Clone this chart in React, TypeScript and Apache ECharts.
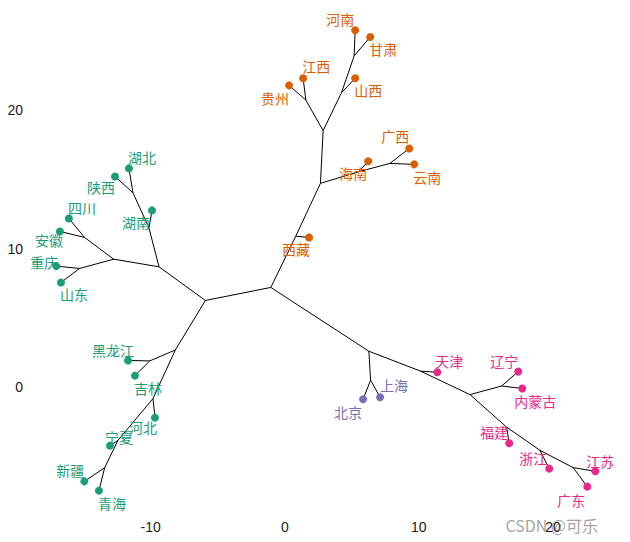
import React, { useEffect, useRef } from "react";
import * as echarts from "echarts";

// Leaves by cluster: names, x, y
const greenNames = ["湖北", "陕西", "湖南", "四川", "安徽", "重庆", "山东", "黑龙江", "吉林", "河北", "宁夏", "新疆", "青海"];
const greenX = [-11.62, -12.66, -9.9, -16.1, -16.77, -17.04, -16.69, -11.69, -11.17, -9.68, -13.04, -14.95, -13.86];
const greenY = [15.79, 15.21, 12.76, 12.18, 11.24, 8.74, 7.56, 1.93, 0.84, -2.19, -4.21, -6.79, -7.46];

const orangeNames = ["河南", "甘肃", "江西", "贵州", "山西", "广西", "云南", "海南", "西藏"];
const orangeX = [5.25, 6.37, 1.37, 0.32, 5.25, 9.28, 9.65, 6.22, 1.81];
const orangeY = [25.75, 25.27, 22.29, 21.78, 22.29, 17.23, 16.08, 16.3, 10.81];

const pinkNames = ["天津", "辽宁", "内蒙古", "福建", "浙江", "江苏", "广东"];
const pinkX = [11.37, 17.41, 17.71, 16.74, 19.72, 23.16, 22.56];
const pinkY = [1.08, 1.13, -0.09, -4.04, -5.87, -6.06, -7.17];

const purpleNames = ["北京", "上海"];
const purpleX = [5.84, 7.11];
const purpleY = [-0.87, -0.72];

// Internal nodes of the tree
const innerNames = ["A", "B", "G1", "H1", "H2", "L1", "L2", "L3", "G2", "G3", "G4", "G5", "G6", "X", "O1", "O2", "O3", "O4", "O5", "O6", "O7", "P0", "P1", "P2", "P3", "P4", "P5", "P6", "P7"];
const innerX = [-5.92, -1.04, -9.38, -10.13, -11.32, -12.76, -15.3, -14.93, -8.16, -10.07, -9.83, -12.44, -13.43, 0.82, 2.66, 2.86, 4.23, 5.17, 1.57, 5.52, 7.84, 6.27, 6.4, 10.13, 13.81, 16.17, 16.54, 19.03, 21.51];
const innerY = [6.26, 7.2, 8.69, 11.5, 14.03, 9.24, 8.57, 10.81, 2.69, 1.9, -0.82, -3.83, -5.8, 10.9, 14.71, 18.51, 21.25, 23.9, 20.72, 15.55, 16.15, 2.6, 0.51, 1.16, -0.53, 0.09, -2.87, -4.55, -5.8];

const edges: [string, string][] = [
  ["A", "B"], ["A", "G1"], ["A", "G2"],
  ["G1", "H1"], ["H1", "湖南"], ["H1", "H2"], ["H2", "湖北"], ["H2", "陕西"],
  ["G1", "L1"], ["L1", "L2"], ["L1", "L3"], ["L2", "重庆"], ["L2", "山东"], ["L3", "四川"], ["L3", "安徽"],
  ["G2", "G3"], ["G3", "黑龙江"], ["G3", "吉林"], ["G2", "G4"], ["G4", "河北"], ["G4", "G5"], ["G5", "宁夏"], ["G5", "G6"], ["G6", "新疆"], ["G6", "青海"],
  ["B", "X"], ["X", "西藏"], ["X", "O1"], ["O1", "O2"], ["O1", "O6"], ["O6", "海南"], ["O6", "O7"], ["O7", "广西"], ["O7", "云南"],
  ["O2", "O5"], ["O5", "江西"], ["O5", "贵州"], ["O2", "O3"], ["O3", "山西"], ["O3", "O4"], ["O4", "河南"], ["O4", "甘肃"],
  ["B", "P0"], ["P0", "P1"], ["P1", "北京"], ["P1", "上海"], ["P0", "P2"], ["P2", "天津"], ["P2", "P3"], ["P3", "P4"], ["P4", "辽宁"], ["P4", "内蒙古"],
  ["P3", "P5"], ["P5", "福建"], ["P5", "P6"], ["P6", "浙江"], ["P6", "P7"], ["P7", "江苏"], ["P7", "广东"],
];

const xTicks = [-10, 0, 10, 20];
const yTicks = [0, 10, 20];

// label placement (pixels, style only)
const labelOffset: Record<string, [number, number]> = {
  河南: [-15, -11], 甘肃: [13, 12], 江西: [13, -12], 贵州: [-14, 13], 山西: [13, 12],
  广西: [-14, -12], 云南: [13, 13], 海南: [-15, 12], 西藏: [-13, 12],
  湖北: [13, -11], 陕西: [-14, 11], 湖南: [-16, 12], 四川: [13, -10], 安徽: [-11, 9],
  重庆: [-12, -4], 山东: [13, 12], 黑龙江: [-15, -10], 吉林: [13, 12], 河北: [-12, 9],
  宁夏: [9, -9], 新疆: [-14, -11], 青海: [13, 12],
  天津: [12, -11], 辽宁: [-14, -11], 内蒙古: [13, 13], 福建: [-15, -11], 浙江: [-16, -11],
  江苏: [5, -10], 广东: [-16, 13], 北京: [-15, 13], 上海: [14, -12],
};

export default function App() {
  const ref = useRef<HTMLDivElement>(null);
  useEffect(() => {
    if (!ref.current) return;
    const chart = echarts.init(ref.current, null, { renderer: "svg" });
    const pos: Record<string, [number, number]> = {};
    const add = (n: string[], xs: number[], ys: number[]) => n.forEach((k, i) => (pos[k] = [xs[i], ys[i]]));
    add(greenNames, greenX, greenY);
    add(orangeNames, orangeX, orangeY);
    add(pinkNames, pinkX, pinkY);
    add(purpleNames, purpleX, purpleY);
    add(innerNames, innerX, innerY);

    const font = "'Noto Sans CJK SC', 'Noto Sans', sans-serif";
    const mk = (names: string[], xs: number[], ys: number[], color: string) => ({
      type: "scatter",
      symbol: "circle",
      symbolSize: 8,
      itemStyle: { color, opacity: 1 },
      z: 3,
      data: names.map((n, i) => ({
        name: n,
        value: [xs[i], ys[i]],
        label: { offset: labelOffset[n] || [0, 0] },
      })),
      label: {
        show: true,
        position: "inside",
        formatter: "{b}",
        color,
        fontSize: 14,
        fontFamily: font,
      },
    });

    chart.setOption({
      animation: false,
      backgroundColor: "#fff",
      grid: { left: 30, right: 10, top: 13, bottom: 30, containLabel: false },
      xAxis: {
        type: "value",
        min: -19,
        max: 25,
        splitLine: { show: false },
        axisLine: { show: false },
        axisTick: { show: false },
        axisLabel: {
          customValues: xTicks,
          color: "#1a1a1a",
          fontSize: 14,
          fontFamily: "'Liberation Sans', Arial, sans-serif",
          margin: 8,
        },
      },
      yAxis: {
        type: "value",
        min: -9,
        max: 27,
        splitLine: { show: false },
        axisLine: { show: false },
        axisTick: { show: false },
        axisLabel: {
          customValues: yTicks,
          color: "#1a1a1a",
          fontSize: 14,
          fontFamily: "'Liberation Sans', Arial, sans-serif",
          margin: 7,
        },
      },
      graphic: [
        {
          type: "text",
          right: 32,
          bottom: 9,
          z: 10,
          style: { text: "CSDN @可乐", fill: "rgba(120,120,120,0.7)", fontSize: 16, fontFamily: font },
        },
      ],
      series: [
        {
          type: "lines",
          coordinateSystem: "cartesian2d",
          polyline: false,
          lineStyle: { color: "#000", width: 1, opacity: 1 },
          z: 1,
          data: edges.map(([a, b]) => ({ coords: [pos[a], pos[b]] })),
        },
        mk(greenNames, greenX, greenY, "#1B9E77"),
        mk(orangeNames, orangeX, orangeY, "#D95F02"),
        mk(pinkNames, pinkX, pinkY, "#E7298A"),
        mk(purpleNames, purpleX, purpleY, "#7570B3"),
      ],
    });
    return () => chart.dispose();
  }, []);
  return (
    <div
      ref={ref}
      style={{ position: "fixed", left: 0, top: 0, width: 630, height: 542, background: "#fff" }}
    />
  );
}
